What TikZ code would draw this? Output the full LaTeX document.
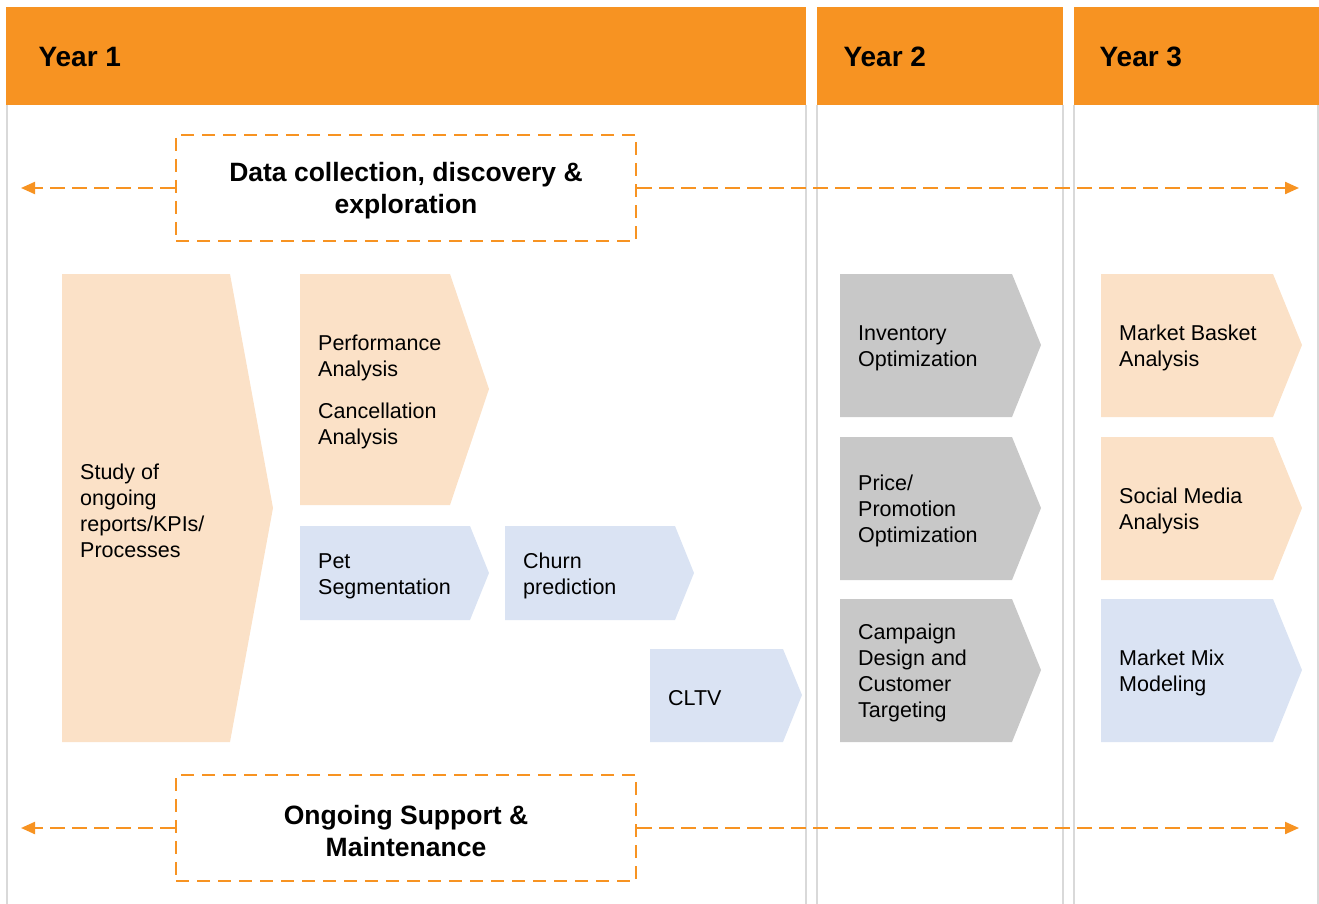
\documentclass[tikz,border=0pt]{standalone}
\usepackage{fontspec}
\setmainfont{Liberation Sans}
\usetikzlibrary{arrows.meta}
\definecolor{hdr}{RGB}{247,147,34}
\definecolor{peach}{RGB}{251,225,199}
\definecolor{bluebox}{RGB}{218,227,243}
\definecolor{graybox}{RGB}{200,200,200}
\definecolor{sep}{RGB}{217,217,217}
\definecolor{dashc}{RGB}{247,147,34}
\tikzset{
  hdrtxt/.style={anchor=west,font=\fontsize{28}{32}\selectfont\bfseries,text=black},
  boxtxt/.style={anchor=west,align=left,font=\fontsize{21.5}{25.8}\selectfont,text=black,inner sep=0pt,yshift=-2pt},
  dbox/.style={draw=dashc,line width=2.2pt,dash pattern=on 13pt off 8pt,minimum width=460pt,minimum height=106pt,align=center,font=\fontsize{26.5}{32}\selectfont\bfseries,inner sep=0pt},
  dtxt/.style={align=center,font=\fontsize{26.5}{32}\selectfont\bfseries,inner sep=0pt},
  darrow/.style={draw=dashc,line width=2.2pt,dash pattern=on 15pt off 7pt,-{Triangle[length=14pt,width=12pt]}},
  sepline/.style={draw=sep,line width=2pt}
}
\begin{document}
\begin{tikzpicture}[x=1pt,y=-1pt]
\useasboundingbox (0,0) rectangle (1319,904);
% headers
\fill[hdr] (6,7) rectangle (806,105);
\fill[hdr] (817,7) rectangle (1063,105);
\fill[hdr] (1074,7) rectangle (1319,105);
\node[hdrtxt] (y1) at (35,57) {Year 1};
\node[hdrtxt] (y2) at (840,57) {Year 2};
\node[hdrtxt] (y3) at (1096,57) {Year 3};
% separators
\foreach \x in {7,806,817,1063,1074,1318} \draw[sepline] (\x,105) -- (\x,904);
% shapes
\fill[peach] (62,274) -- (230,274) -- (273,508) -- (230,742) -- (62,742) -- cycle;
\node[boxtxt] (study) at (80,509) {Study of\\ongoing\\reports/KPIs/\\Processes};
\fill[peach] (300,274) -- (450,274) -- (489,389) -- (450,505) -- (300,505) -- cycle;
\node[boxtxt] (perf) at (318,356) {Performance\\Analysis};
\node[boxtxt] (canc) at (318,424) {Cancellation\\Analysis};
\fill[bluebox] (300,526) -- (470,526) -- (489,573) -- (470,620) -- (300,620) -- cycle;
\node[boxtxt] (pet) at (318,574) {Pet\\Segmentation};
\fill[bluebox] (505,526) -- (675,526) -- (694,573) -- (675,620) -- (505,620) -- cycle;
\node[boxtxt] (churn) at (523,574) {Churn\\prediction};
\fill[bluebox] (650,649) -- (783,649) -- (802,695) -- (783,742) -- (650,742) -- cycle;
\node[boxtxt] (cltv) at (668,696) {CLTV};
\fill[graybox] (840,274) -- (1012,274) -- (1041,345) -- (1012,417) -- (840,417) -- cycle;
\node[boxtxt] (inv) at (858,346) {Inventory\\Optimization};
\fill[graybox] (840,437) -- (1012,437) -- (1041,508) -- (1012,580) -- (840,580) -- cycle;
\node[boxtxt] (price) at (858,509) {Price/\\Promotion\\Optimization};
\fill[graybox] (840,599) -- (1012,599) -- (1041,670) -- (1012,742) -- (840,742) -- cycle;
\node[boxtxt] (camp) at (858,671) {Campaign\\Design and\\Customer\\Targeting};
\fill[peach] (1101,274) -- (1273,274) -- (1302,345) -- (1273,417) -- (1101,417) -- cycle;
\node[boxtxt] (mba) at (1119,346) {Market Basket\\Analysis};
\fill[peach] (1101,437) -- (1273,437) -- (1302,508) -- (1273,580) -- (1101,580) -- cycle;
\node[boxtxt] (sma) at (1119,509) {Social Media\\Analysis};
\fill[bluebox] (1101,599) -- (1273,599) -- (1302,670) -- (1273,742) -- (1101,742) -- cycle;
\node[boxtxt] (mmm) at (1119,671) {Market Mix\\Modeling};
% dashed boxes
\node[dbox] (dc) at (406,188) {};
\node[dtxt] (dct) at (406,191) {Data collection, discovery \&\\exploration};
\node[dbox] (os) at (406,828) {};
\node[dtxt] (ost) at (406,831) {Ongoing Support \&\\Maintenance};
\coordinate (dcl) at (21,188);
\coordinate (dcr) at (1299,188);
\coordinate (osl) at (21,828);
\coordinate (osr) at (1299,828);
\draw[darrow] (dc.west) -- (dcl);
\draw[darrow] (dc.east) -- (dcr);
\draw[darrow] (os.west) -- (osl);
\draw[darrow] (os.east) -- (osr);
\end{tikzpicture}
\end{document}
